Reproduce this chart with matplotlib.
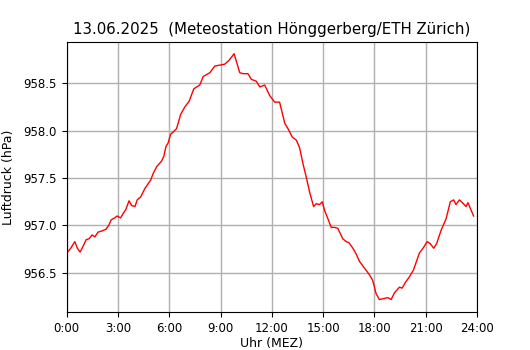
import numpy as np
import matplotlib
matplotlib.use("Agg")
import matplotlib.pyplot as plt

# Luftdruck Messwerte (Stunden seit Mitternacht, hPa)
stunden = [0.00, 0.23, 0.47, 0.62, 0.78, 0.95, 1.13, 1.30, 1.48, 1.64,
           1.83, 2.02, 2.29, 2.45, 2.60, 2.80, 2.95, 3.15, 3.31, 3.46,
           3.64, 3.80, 3.99, 4.12, 4.32, 4.57, 4.76, 4.91, 5.06, 5.26,
           5.55, 5.68, 5.80, 5.93, 6.07, 6.19, 6.42, 6.52, 6.66, 6.91,
           7.16, 7.43, 7.78, 7.98, 8.37, 8.66, 8.95, 9.24, 9.49, 9.79,
           10.12, 10.31, 10.60, 10.80, 11.09, 11.29, 11.58, 11.87, 12.16, 12.45,
           12.75, 12.94, 13.20, 13.43, 13.62, 13.82, 14.01, 14.21, 14.44, 14.60,
           14.79, 14.95, 15.08, 15.28, 15.47, 15.67, 15.86, 15.96, 16.15, 16.35,
           16.50, 16.74, 16.93, 17.13, 17.42, 17.71, 17.90, 18.10, 18.29, 18.55,
           18.78, 18.98, 19.17, 19.46, 19.62, 19.81, 20.05, 20.28, 20.63, 20.88,
           21.08, 21.26, 21.47, 21.64, 21.90, 22.19, 22.44, 22.63, 22.77, 22.97,
           23.20, 23.36, 23.47, 23.80]
druck = [956.71, 956.76, 956.83, 956.76, 956.72, 956.78, 956.85, 956.86, 956.90, 956.88,
         956.93, 956.94, 956.96, 957.00, 957.06, 957.08, 957.10, 957.08, 957.13, 957.17,
         957.26, 957.21, 957.20, 957.27, 957.30, 957.39, 957.44, 957.48, 957.55, 957.62,
         957.68, 957.73, 957.83, 957.87, 957.96, 957.98, 958.02, 958.08, 958.17, 958.25,
         958.31, 958.44, 958.48, 958.57, 958.61, 958.68, 958.69, 958.70, 958.74, 958.81,
         958.61, 958.60, 958.60, 958.54, 958.52, 958.46, 958.48, 958.37, 958.30, 958.30,
         958.08, 958.02, 957.93, 957.90, 957.82, 957.65, 957.51, 957.35, 957.20, 957.23,
         957.22, 957.25, 957.16, 957.07, 956.98, 956.98, 956.97, 956.93, 956.86, 956.83,
         956.82, 956.76, 956.70, 956.62, 956.55, 956.48, 956.42, 956.28, 956.22, 956.23,
         956.24, 956.22, 956.29, 956.35, 956.34, 956.40, 956.46, 956.53, 956.71, 956.77,
         956.83, 956.81, 956.76, 956.81, 956.95, 957.07, 957.25, 957.27, 957.22, 957.27,
         957.23, 957.20, 957.24, 957.10]

xticks = list(range(0, 25, 3))
xlabels = [f"{h}:00" for h in xticks]

fig = plt.figure(figsize=(5.3, 3.5), dpi=100)
ax = fig.add_axes([0.126, 0.109, 0.774, 0.770])
ax.plot(stunden, druck, color='red', lw=1)
ax.set_xlim(0, 24)
ax.set_ylim(956.09, 958.93)
ax.set_xticks(xticks)
ax.set_xticklabels(xlabels)
ax.set_yticks([956.5, 957.0, 957.5, 958.0, 958.5])
ax.tick_params(labelsize=8.5)
ax.grid(True, color='#b0b0b0', lw=1)
ax.set_xlabel('Uhr (MEZ)', fontsize=9, labelpad=2)
ax.set_ylabel('Luftdruck (hPa)', fontsize=9, labelpad=6)
ax.set_title('13.06.2025  (Meteostation Hönggerberg/ETH Zürich)', fontsize=10.8)
fig.savefig('out.png', dpi=100)
